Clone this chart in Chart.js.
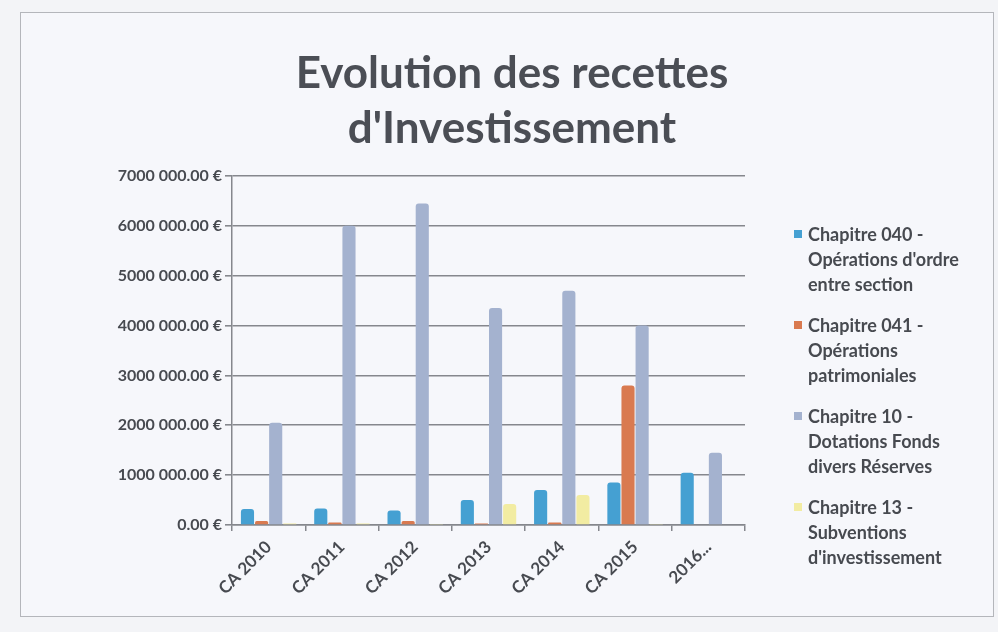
<!DOCTYPE html>
<html>
<head>
<meta charset="utf-8">
<script src="https://cdn.jsdelivr.net/npm/chart.js@4"></script>
<style>
  html, body { margin: 0; padding: 0; background: #f3f4f7; }
  #wrap { position: relative; width: 998px; height: 632px; overflow: hidden; }
  #frame { position: absolute; left: 20px; top: 12px; width: 974px; height: 605px;
           border: 1.5px solid #b4b6bb; background: #f6f7fb; box-sizing: border-box; }
  canvas { position: absolute; left: 0; top: 0; }
  #title { position: absolute; left: 212px; top: 44px; width: 600px; text-align: center;
           font-family: Lato, sans-serif; font-weight: bold; font-size: 44px; line-height: 55px;
           color: #4b4e55; }
  #legend { position: absolute; left: 794px; top: 222px; font-family: Lato, sans-serif;
            font-weight: bold; font-size: 18px; color: #474a50; line-height: 25px; }
  .item { position: relative; padding-left: 14px; margin-bottom: 16px; }
  .mk { position: absolute; left: 0; top: 8px; width: 8px; height: 8px; }
</style>
</head>
<body>
<div id="wrap">
  <div id="frame"></div>
  <canvas id="c" width="998" height="632"></canvas>
  <div id="title"></div>
  <div id="legend"></div>
</div>
<script>
const titleLines = ["Evolution des recettes", "d'Investissement"];
const categories = ["CA 2010", "CA 2011", "CA 2012", "CA 2013", "CA 2014", "CA 2015", "2016..."];
const seriesNames = [
  ["Chapitre 040 -", "Opérations d'ordre", "entre section"],
  ["Chapitre 041 -", "Opérations", "patrimoniales"],
  ["Chapitre 10 -", "Dotations Fonds", "divers Réserves"],
  ["Chapitre 13 -", "Subventions", "d'investissement"]
];
const chap040 = [320000, 330000, 290000, 500000, 700000, 850000, 1050000];
const chap041 = [80000, 50000, 80000, 30000, 50000, 2800000, 0];
const chap10  = [2050000, 6000000, 6450000, 4350000, 4700000, 4000000, 1450000];
const chap13  = [30000, 30000, 20000, 420000, 600000, 20000, 0];
const yTickLabels = ["0.00 €", "1000 000.00 €", "2000 000.00 €", "3000 000.00 €",
                     "4000 000.00 €", "5000 000.00 €", "6000 000.00 €", "7000 000.00 €"];
const colors = ["#45a0d2", "#d97a50", "#a4b2cf", "#f2eca2"];

const seriesValues = [chap040, chap041, chap10, chap13];
const datasets = seriesValues.map((vals, i) => ({
  label: seriesNames[i].join(" "),
  data: vals,
  backgroundColor: colors[i],
  borderRadius: { topLeft: 3, topRight: 3 },
  borderSkipped: "bottom",
  categoryPercentage: 0.77,
  barPercentage: 0.93
}));

const txt = "#474a50";
const gridCol = "#85878d";
new Chart(document.getElementById("c"), {
  type: "bar",
  data: { labels: categories, datasets },
  options: {
    responsive: false,
    animation: false,
    layout: { padding: { left: 0, right: 253, top: 176, bottom: 0 } },
    plugins: {
      legend: { display: false },
      tooltip: { enabled: false },
      title: { display: false }
    },
    scales: {
      x: {
        afterFit: s => { s.height = 107; },
        grid: { offset: true, drawOnChartArea: false, color: gridCol, tickLength: 6, lineWidth: 1.5 },
        border: { color: gridCol, width: 1.5 },
        ticks: { color: txt, font: { family: "Lato", size: 17, weight: "bold" },
                 minRotation: 45, maxRotation: 45, padding: 6 }
      },
      y: {
        min: 0, max: 7000000,
        afterFit: s => { s.width = 232; },
        afterBuildTicks: s => { s.ticks = yTickLabels.map((_, i) => ({ value: i * 1000000 })); },
        grid: { color: gridCol, lineWidth: 1.6, tickLength: 7 },
        border: { color: gridCol, width: 1.5 },
        ticks: { color: txt, font: { family: "Lato", size: 16, weight: "bold" }, padding: 3,
                 callback: (v, i) => yTickLabels[i] }
      }
    }
  }
});

const tt = document.getElementById("title");
titleLines.forEach(t => { const l = document.createElement("div"); l.textContent = t; tt.appendChild(l); });

const lg = document.getElementById("legend");
seriesNames.forEach((lines, i) => {
  const d = document.createElement("div");
  d.className = "item";
  const m = document.createElement("span");
  m.className = "mk";
  m.style.background = colors[i];
  d.appendChild(m);
  lines.forEach(t => { const l = document.createElement("div"); l.textContent = t; d.appendChild(l); });
  lg.appendChild(d);
});
</script>
</body>
</html>
